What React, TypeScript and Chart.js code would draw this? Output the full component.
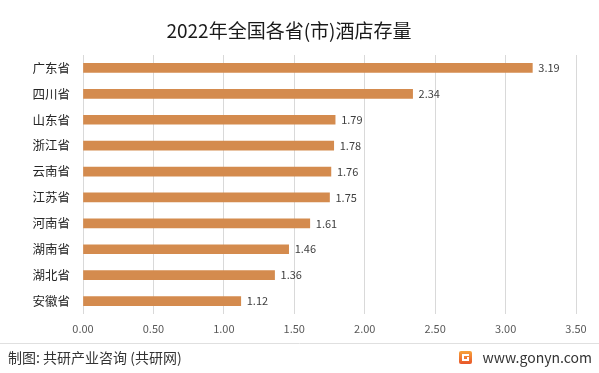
import React, { useEffect, useRef } from "react";
import { Chart, registerables } from "chart.js";

Chart.register(...registerables);

const categories = ["广东省", "四川省", "山东省", "浙江省", "云南省", "江苏省", "河南省", "湖南省", "湖北省", "安徽省"];
const values = [3.19, 2.34, 1.79, 1.78, 1.76, 1.75, 1.61, 1.46, 1.36, 1.12];
const title = "2022年全国各省(市)酒店存量";
const footerLeft = "制图: 共研产业咨询 (共研网)";
const footerRight = "www.gonyn.com";
const FONT = '"Noto Sans CJK SC", "Noto Sans", sans-serif';

const decorPlugin = {
  id: "decor",
  afterDatasetsDraw(chart: any) {
    const ctx = chart.ctx;
    const meta = chart.getDatasetMeta(0);
    ctx.save();
    ctx.font = `11px ${FONT}`;
    ctx.fillStyle = "#404040";
    ctx.textBaseline = "middle";
    ctx.textAlign = "left";
    meta.data.forEach((bar: any, i: number) => {
      ctx.fillText(values[i].toFixed(2), bar.x + 6, bar.y);
    });
    ctx.restore();
  },
  afterDraw(chart: any) {
    const ctx = chart.ctx;
    ctx.save();
    // title
    ctx.font = `19px ${FONT}`;
    ctx.fillStyle = "#1a1a1a";
    ctx.textAlign = "center";
    ctx.textBaseline = "middle";
    ctx.fillText(title, 289, 31);
    // separator
    ctx.strokeStyle = "#e0e0e0";
    ctx.lineWidth = 1;
    ctx.beginPath();
    ctx.moveTo(0, 343.5);
    ctx.lineTo(chart.width, 343.5);
    ctx.stroke();
    // footer left
    ctx.font = `14px ${FONT}`;
    ctx.fillStyle = "#333333";
    ctx.textAlign = "left";
    ctx.fillText(footerLeft, 8, 358);
    // logo
    const lx = 459, ly = 351, ls = 13;
    const g = ctx.createLinearGradient(lx, ly, lx, ly + ls);
    g.addColorStop(0, "#f7a23a");
    g.addColorStop(1, "#e8562a");
    ctx.fillStyle = g;
    ctx.beginPath();
    (ctx as any).roundRect ? (ctx as any).roundRect(lx, ly, ls, ls, 2) : ctx.rect(lx, ly, ls, ls);
    ctx.fill();
    ctx.fillStyle = "#ffffff";
    ctx.fillRect(lx + 3, ly + 3, 7, 2);
    ctx.fillRect(lx + 3, ly + 3, 2, 7);
    ctx.fillRect(lx + 3, ly + 8, 7, 2);
    ctx.fillRect(lx + 8, ly + 6, 2, 4);
    // footer right
    ctx.font = `14px ${FONT}`;
    ctx.fillStyle = "#333333";
    ctx.textAlign = "right";
    ctx.fillText(footerRight, 592, 358);
    ctx.restore();
  },
};

export default function App() {
  const ref = useRef<HTMLCanvasElement>(null);
  useEffect(() => {
    document.body.style.margin = "0";
    const chart = new Chart(ref.current!, {
      type: "bar",
      data: {
        labels: categories,
        datasets: [
          {
            data: values,
            backgroundColor: "#d48b4e",
            barThickness: 9,
          },
        ],
      },
      options: {
        indexAxis: "y",
        animation: false,
        responsive: false,
        maintainAspectRatio: false,
        layout: { padding: { top: 55, right: 23, bottom: 40, left: 0 } },
        plugins: {
          legend: { display: false },
          tooltip: { enabled: false },
        },
        scales: {
          x: {
            min: 0,
            max: 3.5,
            ticks: {
              stepSize: 0.5,
              padding: 8,
              color: "#595959",
              font: { family: FONT, size: 11 },
              callback: (v: any) => Number(v).toFixed(2),
            },
            grid: { color: "#d9d9d9", drawTicks: false },
            border: { display: false },
            afterFit: (s: any) => {
              s.height = 19;
            },
          },
          y: {
            ticks: {
              padding: 13,
              color: "#262626",
              font: { family: FONT, size: 12.5 },
            },
            grid: { display: false, drawTicks: false },
            border: { display: false },
            afterFit: (s: any) => {
              s.width = 83;
            },
          },
        },
      },
      plugins: [decorPlugin],
    });
    return () => chart.destroy();
  }, []);
  return (
    <div style={{ width: 599, height: 373, background: "#fff" }}>
      <canvas ref={ref} width={599} height={373} style={{ display: "block" }} />
    </div>
  );
}
